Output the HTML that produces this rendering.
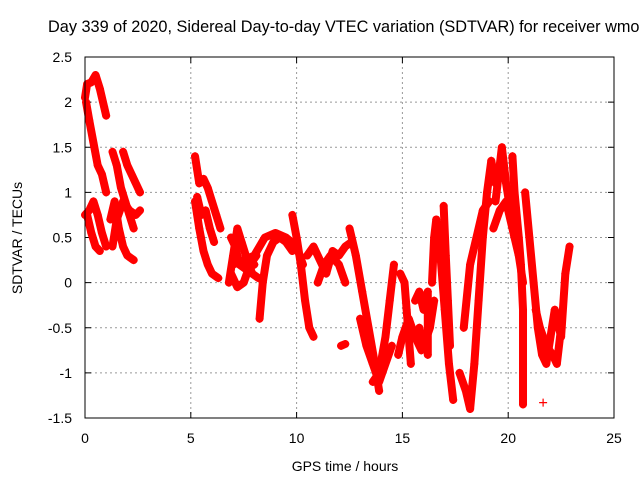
<!DOCTYPE html>
<html><head><meta charset="utf-8"><style>
body{margin:0;background:#fff}
svg{display:block;font-family:"Liberation Sans",sans-serif}
</style></head><body>
<svg id="chart" width="640" height="480">
<text x="48" y="32" text-anchor="start" font-size="16.3">Day 339 of 2020, Sidereal Day-to-day VTEC variation (SDTVAR) for receiver wmok</text>
<text x="345" y="471" text-anchor="middle" font-size="14">GPS time / hours</text>
<text transform="translate(22,238) rotate(-90)" text-anchor="middle" font-size="14">SDTVAR / TECUs</text>
<g id="grid"></g>
<g id="ticks"></g>
<g id="marks"></g>
<rect x="85" y="57" width="529" height="361" fill="none" stroke="#000" stroke-width="1"/>
</svg>
<script>
const xTicks=[0,5,10,15,20,25];
const yTicks=[-1.5,-1,-0.5,0,0.5,1,1.5,2,2.5];
const yTickLabels=["-1.5","-1","-0.5","0","0.5","1","1.5","2","2.5"];
const arc1=[[0,2.05],[0.1,2.2],[0.3,2.22],[0.5,2.3],[0.7,2.15],[0.9,1.95],[1.0,1.85]];
const arc2=[[0.05,2.0],[0.2,1.8],[0.4,1.55],[0.6,1.3],[0.8,1.2],[1.0,1.0]];
const arc3=[[0,0.75],[0.2,0.8],[0.4,0.9],[0.6,0.75],[0.8,0.55],[1.0,0.4]];
const arc4=[[0.1,0.75],[0.3,0.55],[0.5,0.4],[0.7,0.35]];
const arc5=[[1.3,1.45],[1.5,1.3],[1.7,1.05],[1.9,0.9],[2.1,0.75],[2.3,0.6]];
const arc6=[[1.8,1.45],[2.0,1.3],[2.2,1.2],[2.4,1.1],[2.6,1.0]];
const arc7=[[1.2,0.7],[1.4,0.9],[1.6,0.6],[1.8,0.4],[2.0,0.3],[2.3,0.25]];
const arc8=[[1.3,0.4],[1.5,0.7],[1.8,0.9],[2.1,0.8],[2.4,0.75],[2.6,0.8]];
const arc9=[[5.2,1.4],[5.4,1.1],[5.6,1.15],[5.8,1.05],[6.0,0.9],[6.2,0.75],[6.4,0.6]];
const arc10=[[5.2,0.9],[5.4,0.6],[5.6,0.35],[5.8,0.2],[6.0,0.1],[6.3,0.05]];
const arc11=[[5.3,0.95],[5.5,0.75],[5.7,0.8],[5.9,0.6],[6.1,0.45]];
const arc12=[[6.8,0.0],[7.0,0.3],[7.2,0.6],[7.4,0.45],[7.6,0.3],[7.9,0.1],[8.2,0.05]];
const arc13=[[8.25,-0.4],[8.4,0.0],[8.6,0.3],[8.9,0.45],[9.2,0.5],[9.5,0.45],[9.8,0.35]];
const arc14=[[9.8,0.75],[10.0,0.5],[10.2,0.2],[10.4,-0.2],[10.6,-0.5],[10.8,-0.6]];
const arc15=[[7.0,0.2],[7.5,0.25],[8.0,0.3],[8.5,0.5],[9.0,0.55],[9.5,0.5],[10.0,0.4],[10.3,0.2]];
const arc16=[[6.9,0.1],[7.2,-0.05],[7.5,0.0],[7.8,0.2],[8.1,0.3]];
const arc17=[[10.5,0.3],[10.8,0.4],[11.1,0.25],[11.4,0.1],[11.7,0.35],[12.0,0.3],[12.3,0.4],[12.6,0.45]];
const arc18=[[11.0,0.0],[11.3,0.2],[11.6,0.3],[12.0,0.2],[12.3,0.0]];
const arc19=[[12.1,-0.7],[12.3,-0.68]];
const arc20=[[12.5,0.6],[12.8,0.3],[13.1,-0.1],[13.4,-0.5],[13.7,-0.9],[13.9,-1.2]];
const arc21=[[13.6,-1.1],[13.9,-1.0],[14.2,-0.6],[14.4,-0.2],[14.6,0.2]];
const arc22=[[14.9,0.1],[15.1,0.0],[15.2,-0.3],[15.3,-0.6],[15.4,-0.9]];
const arc23=[[15.6,-0.2],[15.8,-0.1],[16.0,-0.3],[16.2,-0.1],[16.2,-0.8]];
const arc24=[[14.8,-0.8],[15.0,-0.6],[15.3,-0.4],[15.6,-0.6],[15.9,-0.75]];
const arc25=[[16.4,0.0],[16.5,0.5],[16.6,0.7],[16.8,0.3],[17.0,-0.3],[17.2,-0.9],[17.4,-1.3]];
const arc26=[[16.95,0.85],[17.05,0.3],[17.15,-0.2],[17.25,-0.7]];
const arc27=[[17.7,-1.0],[18.0,-1.2],[18.2,-1.4],[18.4,-0.9],[18.6,-0.2],[18.8,0.5],[19.0,1.0],[19.2,1.35],[19.4,1.1]];
const arc28=[[17.9,-0.5],[18.2,0.2],[18.5,0.5],[18.8,0.8],[19.1,0.9]];
const arc29=[[19.4,0.9],[19.6,1.3],[19.7,1.5],[19.9,1.1],[20.1,0.8],[20.3,0.5]];
const arc30=[[20.2,1.4],[20.3,1.0],[20.5,0.5],[20.6,0.2],[20.7,-0.3],[20.7,-0.9],[20.7,-1.35]];
const arc31=[[20.8,1.0],[21.0,0.5],[21.2,0.0],[21.4,-0.5],[21.6,-0.8],[21.8,-0.9],[22.0,-0.6],[22.2,-0.3],[22.5,-0.6],[22.7,0.1],[22.9,0.4]];
const arc32=[[21.3,-0.3],[21.5,-0.5],[21.8,-0.7],[22.1,-0.8],[22.3,-0.9],[22.5,-0.5]];
const arc33=[[21.65,-1.33]];
const arc34=[[19.3,0.6],[19.6,0.8],[19.9,0.9],[20.2,0.6],[20.5,0.3],[20.7,0.0]];
const arc35=[[13.0,-0.4],[13.3,-0.7],[13.6,-0.9],[13.9,-1.1],[14.2,-0.9],[14.5,-0.7]];
const arc36=[[15.8,-0.5],[16.0,-0.7],[16.3,-0.5],[16.5,-0.2]];
const arc37=[[6.9,0.5],[7.1,0.4],[7.3,0.2],[7.6,0.15],[8.0,0.2]];
const arcs=[arc1,arc2,arc3,arc4,arc5,arc6,arc7,arc8,arc9,arc10,arc11,arc12,arc13,arc14,arc15,arc16,arc17,arc18,arc19,arc20,arc21,arc22,arc23,arc24,arc25,arc26,arc27,arc28,arc29,arc30,arc31,arc32,arc33,arc34,arc35,arc36,arc37];

const NS="http://www.w3.org/2000/svg";
const X0=85,X1=614,Y0=418,Y1=57;
function xs(t){return X0+(t-0)/(25-0)*(X1-X0);}
function ys(v){return Y0-(v+1.5)/(2.5+1.5)*(Y0-Y1);}
function mk(tag,attrs,parent){const e=document.createElementNS(NS,tag);for(const k in attrs)e.setAttribute(k,attrs[k]);parent.appendChild(e);return e;}
const grid=document.getElementById('grid'),ticks=document.getElementById('ticks'),marks=document.getElementById('marks');
xTicks.forEach((t,i)=>{
  const x=xs(t);
  if(i>0&&i<xTicks.length-1){const g=mk('line',{x1:x,x2:x,y1:Y1,y2:Y0,stroke:'#999','stroke-dasharray':'2,3'},grid);
  
  }
  mk('line',{x1:x,x2:x,y1:Y0,y2:Y0-6,stroke:'#000'},ticks);
  mk('line',{x1:x,x2:x,y1:Y1,y2:Y1+6,stroke:'#000'},ticks);
  const l=mk('text',{x:x,y:443,'text-anchor':'middle','font-size':14},ticks);l.textContent=String(t);
  
  
});
yTicks.forEach((v,i)=>{
  const y=ys(v);
  if(i>0&&i<yTicks.length-1){const g=mk('line',{x1:X0,x2:X1,y1:y,y2:y,stroke:'#999','stroke-dasharray':'2,3'},grid);
  
  }
  mk('line',{x1:X0,x2:X0+6,y1:y,y2:y,stroke:'#000'},ticks);
  mk('line',{x1:X1,x2:X1-6,y1:y,y2:y,stroke:'#000'},ticks);
  const l=mk('text',{x:72,y:y+5,'text-anchor':'end','font-size':14},ticks);l.textContent=yTickLabels[i];
  
  
});
arcs.forEach((arc,ai)=>{
  const pts=arc.map(p=>xs(p[0])+','+ys(p[1])).join(' ');
  const pl=mk('polyline',{points:pts,fill:'none',stroke:'#f00','stroke-width':8,'stroke-linejoin':'round','stroke-linecap':'round'},marks);
  
  
  arc.forEach(p=>{
    const x=xs(p[0]),y=ys(p[1]);
    const m=mk('path',{d:`M${x-4},${y}H${x+4}M${x},${y-4}V${y+4}`,stroke:'#f00','stroke-width':1.2},marks);
    
    
  });
});
</script>
</body></html>
